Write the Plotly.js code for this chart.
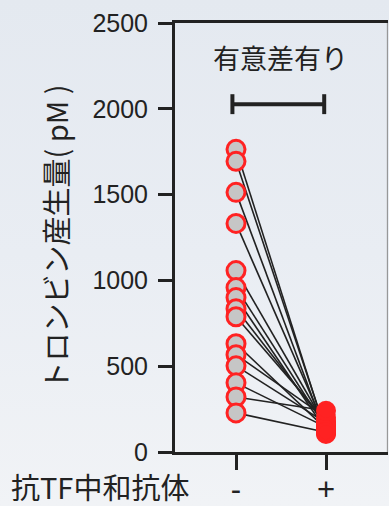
<!DOCTYPE html>
<html>
<head>
<meta charset="utf-8">
<script src="https://cdn.plot.ly/plotly-3.0.1.min.js"></script>
<style>
html,body{margin:0;padding:0;}
body{width:389px;height:506px;background:linear-gradient(to bottom,#e4e9f0 0%,#e9edf3 50%,#f1f3f6 100%);}
#chart{width:389px;height:506px;}
</style>
</head>
<body>
<div id="chart"></div>
<script>
// ---- data ----
const groups = ['-', '+'];
const groupLabel = '抗TF中和抗体';
const before = [1764, 1694, 1513, 1332, 1057, 958, 900, 835, 788, 631, 567, 502, 403, 321, 228];
const after  = [110, 120, 105, 130, 150, 140, 125, 160, 180, 135, 200, 170, 145, 240, 115];
const yTicks = [0, 500, 1000, 1500, 2000, 2500];
const sigText = '有意差有り';
const bracketX = [-0.04, 0.98];
const bracketY = 2027;
const bracketCap = 58;
const sigTextY = 2300;
const yTitle = 'トロンビン産生量( pM )';

const ink = '#222222';
const red = '#ff2222';
const traces = [];
for (let i = 0; i < before.length; i++) {
  traces.push({
    x: [groups[0], groups[1]], y: [before[i], after[i]],
    mode: 'lines', type: 'scatter', hoverinfo: 'skip', showlegend: false,
    line: {color: '#222222', width: 1.6}
  });
}
traces.push({
  x: before.map(() => groups[0]), y: before, mode: 'markers', type: 'scatter',
  showlegend: false, cliponaxis: false,
  marker: {size: 18, color: '#c6c6c6', line: {color: red, width: 3}}
});
traces.push({
  x: after.map(() => groups[1]), y: after, mode: 'markers', type: 'scatter',
  showlegend: false, cliponaxis: false,
  marker: {size: 17, color: red, line: {color: red, width: 3}}
});

const layout = {
  width: 389, height: 506,
  margin: {l: 175, r: 1, t: 23, b: 54},
  paper_bgcolor: 'rgba(0,0,0,0)', plot_bgcolor: 'rgba(0,0,0,0)',
  font: {family: 'Liberation Sans, Arial, sans-serif', color: ink},
  xaxis: {
    type: 'category', categoryarray: groups, range: [-0.678, 1.689],
    showgrid: false, zeroline: false, showline: true, linecolor: ink, linewidth: 3,
    mirror: true, ticks: 'outside', ticklen: 15, tickwidth: 3, tickcolor: ink,
    tickfont: {size: 31, family: 'Liberation Sans, Arial, sans-serif', color: ink},
    ticklabelstandoff: -7, fixedrange: true
  },
  yaxis: {
    range: [0, 2500], tickvals: yTicks, ticktext: yTicks.map(String),
    showgrid: false, zeroline: false, showline: true, linecolor: ink, linewidth: 3,
    ticks: 'outside', ticklen: 14, tickwidth: 3, tickcolor: ink,
    tickfont: {size: 25, family: 'Liberation Sans, Arial, sans-serif', color: ink},
    ticklabelstandoff: 5,
    title: {text: yTitle, font: {size: 29, family: 'Noto Sans CJK JP', color: ink}, standoff: 16},
    fixedrange: true
  },
  shapes: [
    {type: 'line', xref: 'x', yref: 'y', x0: bracketX[0], x1: bracketX[1], y0: bracketY, y1: bracketY, line: {color: ink, width: 4}},
    {type: 'line', xref: 'x', yref: 'y', x0: bracketX[0], x1: bracketX[0], y0: bracketY - bracketCap, y1: bracketY + bracketCap, line: {color: ink, width: 4}},
    {type: 'line', xref: 'x', yref: 'y', x0: bracketX[1], x1: bracketX[1], y0: bracketY - bracketCap, y1: bracketY + bracketCap, line: {color: ink, width: 4}},
    {type: 'line', xref: 'paper', yref: 'paper', x0: 0.997, x1: 0.997, y0: 0, y1: 1, line: {color: '#8a8a8a', width: 1}}
  ],
  annotations: [
    {xref: 'x', yref: 'y', x: 0.49, y: sigTextY, text: sigText, showarrow: false,
     font: {size: 27, family: 'Noto Sans CJK JP', color: ink}, xanchor: 'center', yanchor: 'middle'},
    {xref: 'paper', yref: 'paper', x: -0.78, y: -0.08, text: groupLabel, showarrow: false,
     font: {size: 29, family: 'Noto Sans CJK JP', color: ink}, xanchor: 'left', yanchor: 'middle'}
  ]
};
Plotly.newPlot('chart', traces, layout, {staticPlot: true, displayModeBar: false});
</script>
</body>
</html>
